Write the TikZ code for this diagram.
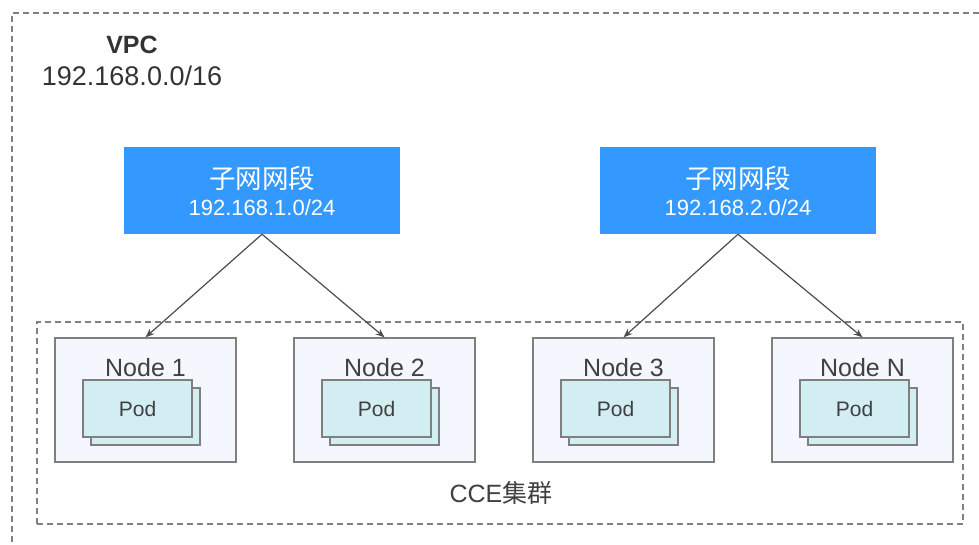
\documentclass[tikz,border=0pt]{standalone}
\usepackage{fontspec}
\setmainfont{Liberation Sans}
\newfontfamily\cjk{Noto Sans CJK SC}
\usetikzlibrary{arrows.meta}
\definecolor{subnetblue}{HTML}{3399FF}
\definecolor{nodefill}{HTML}{F4F7FE}
\definecolor{podfill}{HTML}{D3EEF3}
\definecolor{boxline}{HTML}{7F7F7F}
\definecolor{txt}{HTML}{404040}
\definecolor{dashline}{HTML}{808080}
\begin{document}
\begin{tikzpicture}[x=1pt,y=-1pt,
  dashbox/.style={draw=dashline,line width=1.2pt,dash pattern=on 6pt off 4pt},
  subnet/.style={fill=subnetblue,draw=none,minimum width=276pt,minimum height=87pt,inner sep=0pt},
  nodebox/.style={draw=boxline,fill=nodefill,line width=1.4pt,minimum width=181pt,minimum height=124pt,inner sep=0pt},
  podbox/.style={draw=boxline,fill=podfill,line width=1.4pt,minimum width=109pt,minimum height=57pt,inner sep=0pt,text=txt,font=\fontsize{21}{24}\selectfont},
  lbl/.style={inner sep=0pt,text=txt},
  wlbl/.style={inner sep=0pt,text=white},
  conn/.style={draw=black!70,line width=1.2pt,-{Stealth[length=9pt,width=7pt]}}
]
\useasboundingbox (0,0) rectangle (979,544);
% VPC outline
\coordinate (vpcR) at (979,13);
\coordinate (vpcTL) at (12,13);
\coordinate (vpcB) at (12,544);
\draw[dashbox] (vpcR) -- (vpcTL) -- (vpcB);
\node[lbl,font=\bfseries\fontsize{25}{28}\selectfont,text=black!80] (vpc) at (132,45) {VPC};
\node[lbl,font=\fontsize{27}{30}\selectfont,text=black!80] (vpcip) at (132,76) {192.168.0.0/16};
% CCE cluster
\node[dashbox,minimum width=926pt,minimum height=202pt,inner sep=0pt] (cce) at (500,423) {};
\node[lbl,font=\fontsize{25}{28}\selectfont] (ccel) at (501,493) {CCE{\cjk 集群}};
% subnets
\foreach \j/\x/\ip in {1/262/{192.168.1.0/24},2/738/{192.168.2.0/24}}{
  \node[subnet] (s\j) at (\x,190.5) {};
  \node[wlbl,font=\cjk\fontsize{26.5}{30}\selectfont] (st\j) at (\x,178) {子网网段};
  \node[wlbl,font=\fontsize{22}{25}\selectfont] (si\j) at (\x,208) {\ip};
}
% nodes
\foreach \i/\x/\t in {1/145.5/Node 1,2/384.5/Node 2,3/623.5/Node 3,4/862.5/Node N}{
  \node[nodebox] (n\i) at (\x,400) {};
  \node[podbox] (pb\i) at (\x,416.5) {};
  \node[podbox] (pf\i) at (\x-8,408.5) {Pod};
  \node[lbl,font=\fontsize{25}{28}\selectfont] (nl\i) at (\x,368) {\t};
}
% connectors
\draw[conn] (s1.south) -- (n1.north);
\draw[conn] (s1.south) -- (n2.north);
\draw[conn] (s2.south) -- (n3.north);
\draw[conn] (s2.south) -- (n4.north);
\end{tikzpicture}
\end{document}
